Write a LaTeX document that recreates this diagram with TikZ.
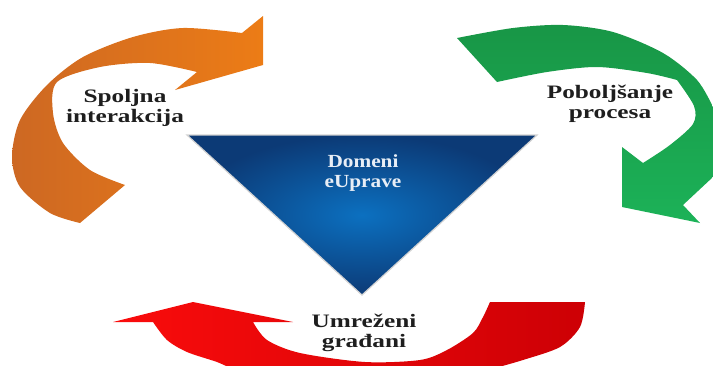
\documentclass[tikz,border=0pt]{standalone}
\usepackage{fontspec}
\setmainfont{Liberation Serif}
\newfontfamily\lblfont[FakeStretch=1.33]{Liberation Serif}
\newfontfamily\domfont[FakeStretch=1.15]{Liberation Serif}
\definecolor{orangeL}{RGB}{236,124,22}
\definecolor{orangeD}{RGB}{205,104,35}
\definecolor{greenT}{RGB}{24,150,70}
\definecolor{greenB}{RGB}{28,178,88}
\definecolor{redL}{RGB}{250,12,12}
\definecolor{redD}{RGB}{205,0,5}
\definecolor{blueIn}{RGB}{12,112,192}
\definecolor{blueOut}{RGB}{12,58,118}
\definecolor{labeltext}{RGB}{30,30,30}
\definecolor{domtext}{RGB}{232,238,246}
\begin{document}
\begin{tikzpicture}[x=1pt,y=-1pt,
labelnode/.style={inner sep=0pt, align=center, text=labeltext, font=\lblfont\bfseries\fontsize{19}{19.5}\selectfont},
domnode/.style={inner sep=0pt, align=center, text=domtext, font=\domfont\bfseries\fontsize{18.5}{20.5}\selectfont},
]
\useasboundingbox (0,0) rectangle (713,365);
\clip (0,0) rectangle (713,365);

%Shapes
\shade[left color=orangeD, right color=orangeL] (80,223) -- plot[smooth] coordinates {(80,223) (50,213) (20,187) (12,157) (20,120) (47,85) (83,57) (133,37) (183,28) (242,33)} -- (263,16) -- (263,65) -- (175,90) -- (197,72) -- plot[smooth] coordinates {(197,72) (150,63) (100,67) (57,82) (53,113) (63,143) (90,170) (125,185)} -- cycle;
\shade[top color=greenT, bottom color=greenB] (457,38) -- plot[smooth] coordinates {(457,38) (513,28) (563,25) (613,32) (663,53) (697,80) (713,107)} -- (716,107) -- (716,177) -- (713,177) -- (683,205) -- (700,223) -- (622,207) -- (622,147) -- (643,163) -- plot[smooth] coordinates {(643,163) (670,145) (693,124) (694,106) (677,80)} -- plot[smooth] coordinates {(677,80) (647,73) (597,67) (547,72) (497,82)} -- cycle;
\shade[left color=redL, right color=redD] (585,302) -- plot[smooth] coordinates {(585,302) (580,327) (560,347) (523,360) (495,368)} -- (230,368) -- plot[smooth] coordinates {(230,368) (217,362) (187,352) (167,340) (153,322)} -- (113,322) -- (193,302) -- (293,322) -- (253,322) -- plot[smooth] coordinates {(253,322) (267,340) (300,353) (365,362) (420,360) (447,350) (473,333) (483,317) (490,302)} -- cycle;
\shade[inner color=blueIn, outer color=blueOut] (187,135) -- (537,135) -- (362,295) -- cycle;
\draw[gray!35, line width=1.2pt] (187,135) -- (537,135) -- (362,295) -- cycle;

%Labels
\node[domnode] (domeni) at (363,173) {Domeni\\eUprave};
\node[labelnode] (spoljna) at (125,108) {Spoljna\\interakcija};
\node[labelnode] (poboljsanje) at (610,104) {Poboljšanje\\procesa};
\node[labelnode] (umrezeni) at (364,333) {Umreženi\\građani};

\end{tikzpicture}
\end{document}
